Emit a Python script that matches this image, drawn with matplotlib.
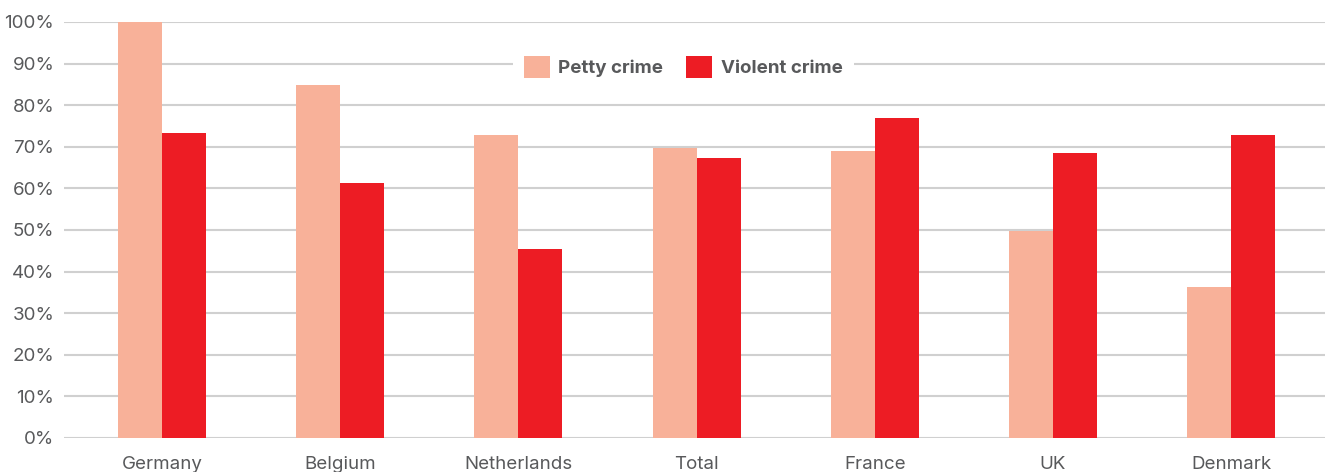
import numpy as np
import matplotlib
matplotlib.use("Agg")
import matplotlib.pyplot as plt
from matplotlib.ticker import FuncFormatter

# ============ DATA ============
countries = ["Germany", "Belgium", "Netherlands", "Total", "France", "UK", "Denmark"]
petty_crime = [100.0, 84.9, 72.8, 69.6, 69.1, 49.8, 36.4]
violent_crime = [73.3, 61.2, 45.5, 67.2, 76.9, 68.5, 72.8]
y_ticks = [0, 10, 20, 30, 40, 50, 60, 70, 80, 90, 100]

PETTY_COLOR = "#F8B199"
VIOLENT_COLOR = "#ED1C24"
TEXT_COLOR = "#58595B"
GRID_COLOR = "#D0D0D0"

plt.rcParams["font.family"] = ["Inter", "DejaVu Sans"]

# ============ PLOT ============
fig = plt.figure(figsize=(13.25, 4.72), dpi=100)
ax = fig.add_axes([64 / 1325, 34 / 472, 1 - 64 / 1325, 416 / 472])

x = np.arange(len(countries))
width = 0.247
ax.bar(x - width / 2, petty_crime, width, color=PETTY_COLOR, label="Petty crime", zorder=3)
ax.bar(x + width / 2, violent_crime, width, color=VIOLENT_COLOR, label="Violent crime", zorder=3)

ax.set_xlim(-0.55, len(countries) - 0.474)
ax.set_ylim(0, 100)
ax.set_yticks(y_ticks)
ax.yaxis.set_major_formatter(FuncFormatter(lambda v, p: f"{v:.0f}%"))
ax.set_xticks(x)
ax.set_xticklabels(countries)

ax.grid(axis="y", color=GRID_COLOR, linewidth=1.5, zorder=0)
ax.set_axisbelow(True)
for side in ["top", "right", "left", "bottom"]:
    ax.spines[side].set_visible(False)
ax.tick_params(axis="both", length=0, labelsize=13.5, colors=TEXT_COLOR)
ax.tick_params(axis="y", pad=7)
ax.tick_params(axis="x", pad=13)

leg = ax.legend(loc="center", bbox_to_anchor=(0.491, 0.892), ncol=2, frameon=True,
                fancybox=False, handlelength=1.4, handleheight=1.4, handletextpad=0.45,
                columnspacing=1.2, borderpad=0.6, borderaxespad=0,
                prop={"weight": "bold", "size": 13.5})
leg.get_frame().set_facecolor("white")
leg.get_frame().set_edgecolor("none")
leg.get_frame().set_alpha(1)
for t in leg.get_texts():
    t.set_color(TEXT_COLOR)

plt.savefig("out.png", dpi=100)
